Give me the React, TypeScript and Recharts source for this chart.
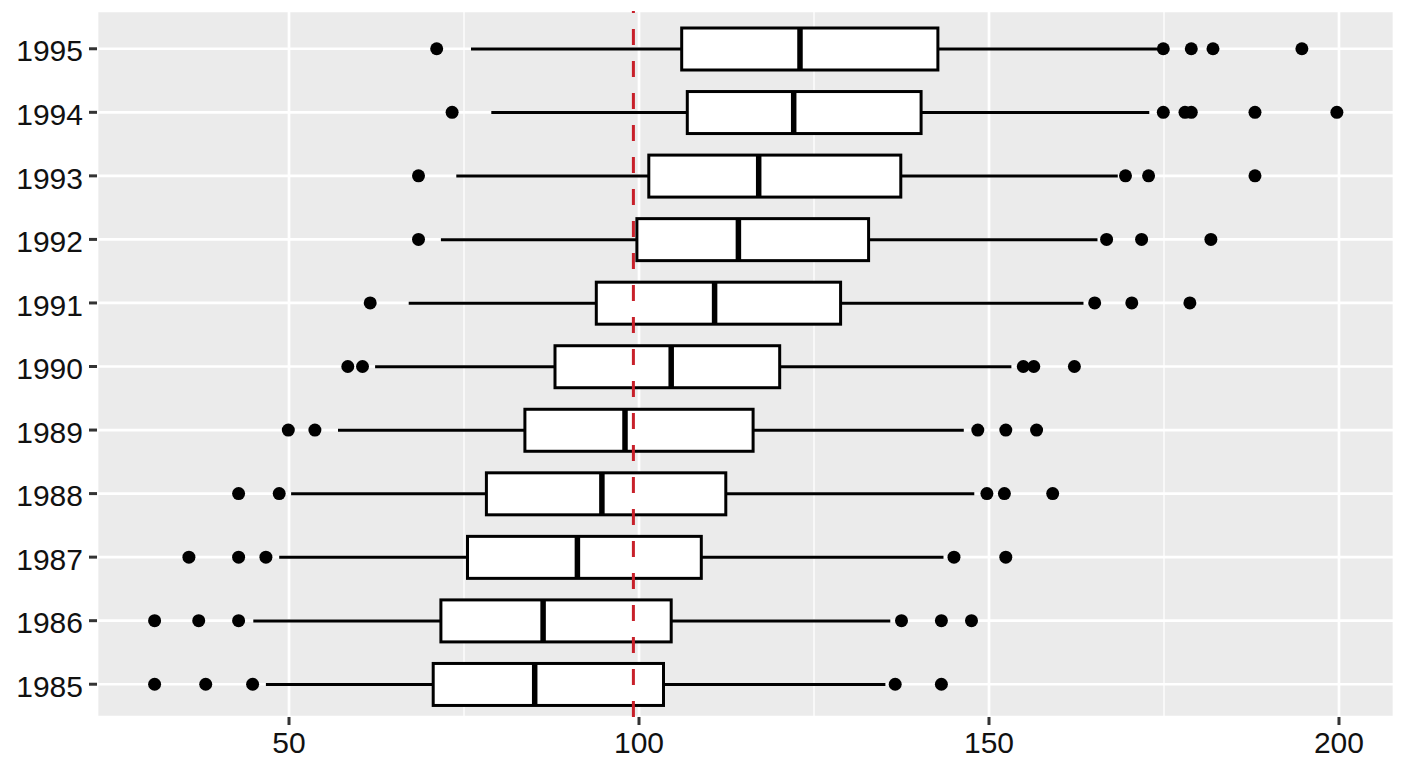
import {
  Bar,
  CartesianGrid,
  ComposedChart,
  ReferenceLine,
  Scatter,
  XAxis,
  YAxis,
} from "recharts";

// top to bottom
const years = ["1995", "1994", "1993", "1992", "1991", "1990", "1989", "1988", "1987", "1986", "1985"];
const lowerWhisker = [76.0, 78.9, 73.9, 71.7, 67.1, 62.3, 57.0, 50.3, 48.6, 44.9, 46.7];
const q1 = [106.1, 106.9, 101.4, 99.7, 93.9, 88.0, 83.7, 78.2, 75.5, 71.7, 70.6];
const median = [123.0, 122.1, 117.1, 114.2, 110.8, 104.6, 98.0, 94.7, 91.2, 86.3, 85.1];
const q3 = [142.7, 140.3, 137.4, 132.8, 128.8, 120.1, 116.3, 112.4, 108.9, 104.6, 103.5];
const upperWhisker = [174.0, 172.9, 168.4, 165.5, 163.5, 153.2, 146.4, 147.9, 143.5, 135.9, 135.2];
const outliers = [
  [71.1, 174.9, 178.9, 182.0, 194.7],
  [73.3, 174.9, 178.0, 178.9, 188.0, 199.7],
  [68.5, 169.5, 172.8, 188.0],
  [68.5, 166.8, 171.8, 181.7],
  [61.6, 165.1, 170.4, 178.7],
  [58.4, 60.5, 154.9, 156.4, 162.2],
  [49.9, 53.7, 148.4, 152.4, 156.8],
  [42.8, 48.6, 149.7, 152.2, 159.1],
  [35.7, 42.8, 46.7, 145.0, 152.4],
  [30.8, 37.1, 42.8, 137.5, 143.2, 147.5],
  [30.8, 38.1, 44.8, 136.6, 143.2],
];
const xTicks = [50, 100, 150, 200];
const minorTicks = [75, 125, 175];
const refValue = 99.2;

const boxData = years.map((year, i) => ({
  year,
  whisker: [lowerWhisker[i], upperWhisker[i]],
  q1: q1[i],
  median: median[i],
  q3: q3[i],
}));

const outlierData = years.flatMap((year, i) =>
  outliers[i].map((value) => ({ year, value }))
);

// box drawn inside the range bar (whisker span), positions interpolated from the bar's own geometry
function BoxShape(props: any) {
  const { x, y, width, height } = props;
  const d = props.payload ?? props;
  const [lo, hi] = d.whisker;
  const px = (v: number) => x + ((v - lo) / (hi - lo)) * width;
  const cy = y + height / 2;
  return (
    <g>
      <line x1={x} x2={px(d.q1)} y1={cy} y2={cy} stroke="#000" strokeWidth={3} />
      <line x1={px(d.q3)} x2={x + width} y1={cy} y2={cy} stroke="#000" strokeWidth={3} />
      <rect
        x={px(d.q1)}
        y={y}
        width={px(d.q3) - px(d.q1)}
        height={height}
        fill="#fff"
        stroke="#000"
        strokeWidth={3}
      />
      <line x1={px(d.median)} x2={px(d.median)} y1={y} y2={y + height} stroke="#000" strokeWidth={5.5} />
    </g>
  );
}

const Dot = (p: any) => <circle cx={p.cx} cy={p.cy} r={6.5} fill="#000" />;

export default function App() {
  return (
    <div
      style={{
        position: "absolute",
        left: 0,
        top: 0,
        background: "#fff",
        fontFamily: "'Liberation Sans', Arial, sans-serif",
      }}
    >
      <ComposedChart
        layout="vertical"
        data={boxData}
        width={1408}
        height={768}
        margin={{ top: 11, right: 14, bottom: 0, left: 0 }}
      >
        <CartesianGrid fill="#EBEBEB" stroke="#fff" strokeWidth={2.7} />
        {minorTicks.map((t) => (
          <ReferenceLine key={t} x={t} stroke="#fff" strokeWidth={1.3} zIndex={-90} />
        ))}
        <XAxis
          type="number"
          domain={[22.57, 207.86]}
          allowDataOverflow
          ticks={xTicks}
          axisLine={false}
          tickSize={8}
          tickMargin={7}
          tickLine={{ stroke: "#333", strokeWidth: 3 }}
          tick={{ fontSize: 30, fill: "#111" }}
          height={51}
        />
        <YAxis
          type="category"
          dataKey="year"
          allowDuplicatedCategory={false}
          width={97}
          axisLine={false}
          tickSize={8}
          tickMargin={6}
          padding={{ top: 6, bottom: 1 }}
          tickLine={{ stroke: "#333", strokeWidth: 3 }}
          tick={{ fontSize: 30, fill: "#111", dy: 2 }}
        />
        <Bar dataKey="whisker" barSize={42} shape={BoxShape} isAnimationActive={false} />
        <Scatter data={outlierData} dataKey="value" shape={Dot} isAnimationActive={false} />
        <ReferenceLine
          x={refValue}
          stroke="#C8202A"
          strokeWidth={3}
          strokeDasharray="16 16"
          zIndex={1500}
        />
      </ComposedChart>
    </div>
  );
}
